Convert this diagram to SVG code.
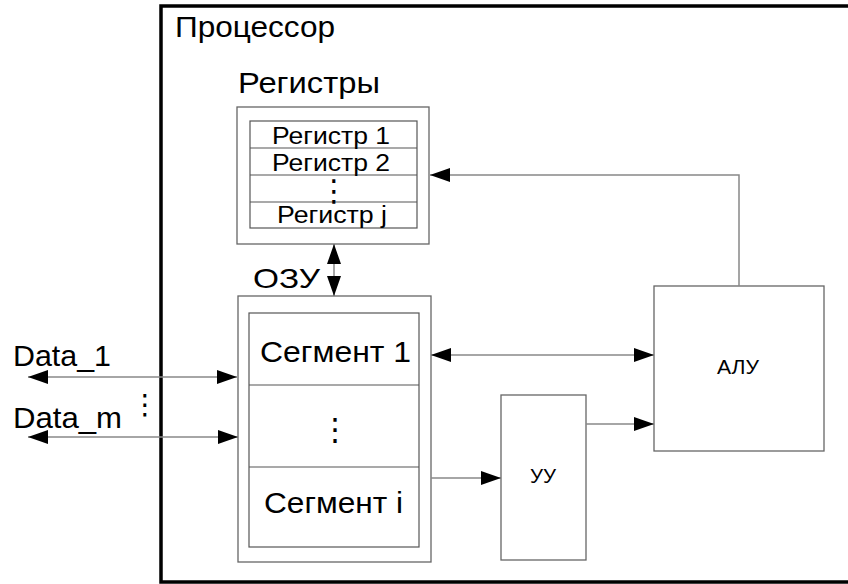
<svg xmlns="http://www.w3.org/2000/svg" width="848" height="584" viewBox="0 0 848 584">
<defs>
<style>
.box{fill:#fff;stroke:#666;stroke-width:1.3}
.frame{fill:none;stroke:#000;stroke-width:3.5}
.ln{fill:none;stroke:#888;stroke-width:1.5}
.row{fill:none;stroke:#555;stroke-width:1.2}
text{font-family:"Liberation Sans",Arial,sans-serif;fill:#000}
text.dots{font-family:"DejaVu Sans",sans-serif;text-anchor:middle}
</style>
<marker id="ah" markerUnits="userSpaceOnUse" markerWidth="20" markerHeight="14" refX="20" refY="7" orient="auto-start-reverse" viewBox="0 0 20 14">
<path d="M0,0 L20,7 L0,14 z" fill="#000"/>
</marker>
</defs>
<rect width="848" height="584" fill="#fff"/>
<g id="processor">
<rect class="frame" x="161" y="6" width="720" height="576"/>
<text x="175" y="37" font-size="30" textLength="160" lengthAdjust="spacingAndGlyphs">Процессор</text>
</g>
<g id="registers">
<text x="238" y="93" font-size="29" textLength="142" lengthAdjust="spacingAndGlyphs">Регистры</text>
<rect class="box" x="237" y="107" width="192" height="137"/>
<rect class="row" x="250" y="121" width="167" height="107"/>
<line class="row" x1="250" y1="148" x2="417" y2="148"/>
<line class="row" x1="250" y1="175" x2="417" y2="175"/>
<line class="row" x1="250" y1="202" x2="417" y2="202"/>
<text x="272" y="144" font-size="23" textLength="118" lengthAdjust="spacingAndGlyphs">Регистр 1</text>
<text x="272" y="171" font-size="23" textLength="118" lengthAdjust="spacingAndGlyphs">Регистр 2</text>
<text class="dots" x="334" y="200.5" font-size="30">⋮</text>
<text x="277" y="223" font-size="23" textLength="110" lengthAdjust="spacingAndGlyphs">Регистр j</text>
</g>
<g id="ozu">
<text x="253" y="288" font-size="28" textLength="67" lengthAdjust="spacingAndGlyphs">ОЗУ</text>
<rect class="box" x="238" y="296" width="193" height="266"/>
<rect class="row" x="249" y="313" width="170" height="234"/>
<line class="row" x1="249" y1="385" x2="419" y2="385"/>
<line class="row" x1="249" y1="467" x2="419" y2="467"/>
<text x="260" y="362" font-size="29" textLength="151" lengthAdjust="spacingAndGlyphs">Сегмент 1</text>
<text class="dots" x="335" y="440" font-size="31">⋮</text>
<text x="264" y="513" font-size="29" textLength="139" lengthAdjust="spacingAndGlyphs">Сегмент i</text>
</g>
<g id="alu">
<rect class="box" x="654" y="286" width="170" height="165"/>
<text x="717" y="374" font-size="21" textLength="42" lengthAdjust="spacingAndGlyphs">АЛУ</text>
</g>
<g id="uu">
<rect class="box" x="501" y="395" width="85" height="165"/>
<text x="530" y="483" font-size="21" textLength="26" lengthAdjust="spacingAndGlyphs">УУ</text>
</g>
<g id="data">
<text x="13" y="366" font-size="30" textLength="98" lengthAdjust="spacingAndGlyphs">Data_1</text>
<text x="13" y="428" font-size="30" textLength="109" lengthAdjust="spacingAndGlyphs">Data_m</text>
<text class="dots" x="145" y="414" font-size="28">⋮</text>
</g>
<g id="connectors">
<line class="ln" x1="28" y1="377" x2="237" y2="377" marker-start="url(#ah)" marker-end="url(#ah)"/>
<line class="ln" x1="28" y1="437" x2="238" y2="437" marker-start="url(#ah)" marker-end="url(#ah)"/>
<line class="ln" x1="334" y1="244" x2="334" y2="296" marker-start="url(#ah)" marker-end="url(#ah)"/>
<line class="ln" x1="431" y1="355" x2="654" y2="355" marker-start="url(#ah)" marker-end="url(#ah)"/>
<polyline class="ln" points="739,286 739,175 430,175" marker-end="url(#ah)"/>
<line class="ln" x1="586" y1="424" x2="654" y2="424" marker-end="url(#ah)"/>
<line class="ln" x1="431" y1="478" x2="501" y2="478" marker-end="url(#ah)"/>
</g>
</svg>
